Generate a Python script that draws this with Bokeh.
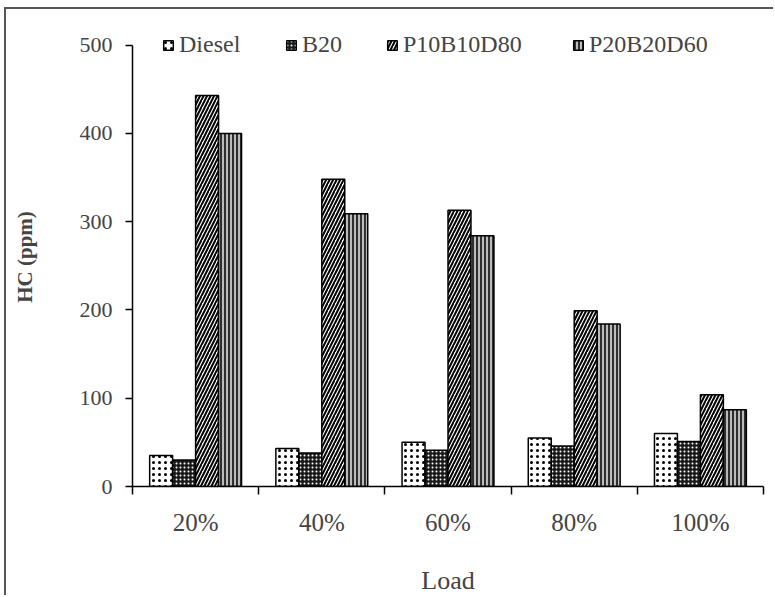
from bokeh.plotting import figure
from bokeh.models import ColumnDataSource, FixedTicker, Legend, LegendItem, Range1d
from bokeh.embed import file_html
from bokeh.resources import INLINE

loads = ["20%", "40%", "60%", "80%", "100%"]
diesel = [35, 43, 50, 55, 60]
b20 = [30, 38, 41, 46, 51]
p10b10d80 = [443, 348, 313, 199, 104]
p20b20d60 = [400, 309, 284, 184, 87]
series_names = ["Diesel", "B20", "P10B10D80", "P20B20D60"]
y_ticks = [0, 100, 200, 300, 400, 500]

FONT = "Liberation Serif"

p = figure(width=769, height=588, output_backend="svg", toolbar_location=None,
           x_range=Range1d(0, len(loads)), y_range=Range1d(0, 520),
           min_border_left=126, min_border_right=12, min_border_top=18, min_border_bottom=110)
p.styles = {"border-left": "2px solid #555", "border-top": "2px solid #555",
            "margin-left": "4px", "margin-top": "7px"}
p.outline_line_color = None
p.xgrid.visible = False
p.ygrid.visible = False
p.background_fill_color = "white"
p.border_fill_color = "white"

centers = [i + 0.5 for i in range(len(loads))]
w = 0.182
offsets = [-1.5 * w, -0.5 * w, 0.5 * w, 1.5 * w]
styles = [
    dict(fill_color="white", hatch_pattern="dot", hatch_color="black", hatch_scale=6, hatch_weight=0.8),
    dict(fill_color="#1a1a1a", hatch_pattern="dot", hatch_color="white", hatch_scale=4, hatch_weight=1.0),
    dict(fill_color="white", hatch_pattern="/", hatch_color="black", hatch_scale=7, hatch_weight=2.0),
    dict(fill_color="#bbbbbb", hatch_pattern="|", hatch_color="black", hatch_scale=4, hatch_weight=1.5),
]
legend_x = [30, 153, 254, 440]
for vals, off, st, name, lx in zip([diesel, b20, p10b10d80, p20b20d60], offsets, styles, series_names, legend_x):
    src = ColumnDataSource(dict(x=[c + off for c in centers], top=vals))
    r = p.vbar(x="x", top="top", bottom=0, width=w, source=src, line_color="black", line_width=1.5, **st)
    lg = Legend(items=[LegendItem(label=name, renderers=[r])], orientation="horizontal",
                location=(lx, 428), border_line_color=None, background_fill_alpha=0,
                label_text_font=FONT, label_text_font_size="24px",
                glyph_width=12, glyph_height=12, label_standoff=5, padding=0, margin=0)
    p.add_layout(lg, "center")

xa = p.xaxis[0]
xa.ticker = FixedTicker(ticks=centers, minor_ticks=list(range(len(loads) + 1)))
xa.major_label_overrides = {c: l for c, l in zip(centers, loads)}
xa.major_tick_out = 0
xa.major_tick_in = 0
xa.minor_tick_out = 8
xa.minor_tick_in = 0
xa.minor_tick_line_color = "black"
xa.minor_tick_line_width = 1.5
xa.axis_line_width = 1.5
xa.axis_line_color = "black"
xa.major_label_text_font = FONT
xa.major_label_text_font_size = "25px"
xa.major_label_standoff = 14
xa.axis_label = "Load"
xa.axis_label_text_font = FONT
xa.axis_label_text_font_style = "normal"
xa.axis_label_text_font_size = "26px"
xa.axis_label_standoff = 27

ya = p.yaxis[0]
ya.ticker = FixedTicker(ticks=y_ticks, minor_ticks=[])
ya.bounds = (0, 500)
ya.major_tick_out = 7
ya.major_tick_in = 0
ya.major_tick_line_width = 1.5
ya.axis_line_width = 1.5
ya.axis_line_color = "black"
ya.major_label_text_font = FONT
ya.major_label_text_font_size = "22px"
ya.major_label_standoff = 13
ya.axis_label = "HC (ppm)"
ya.axis_label_text_font = FONT
ya.axis_label_text_font_style = "bold"
ya.axis_label_text_font_size = "21px"
ya.axis_label_standoff = 40

open("out.html", "w").write(file_html(p, INLINE))
